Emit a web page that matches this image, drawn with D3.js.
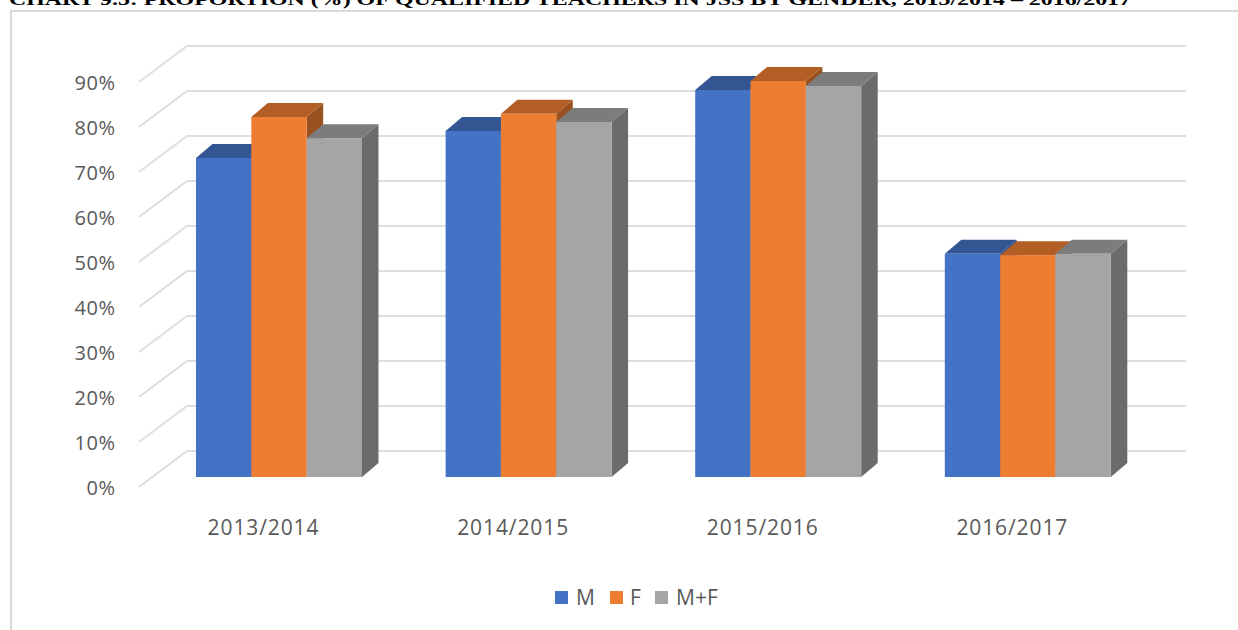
<!DOCTYPE html>
<html><head><meta charset="utf-8">
<script src="https://cdn.jsdelivr.net/npm/d3@7"></script>
<style>
html,body{margin:0;padding:0;background:#fff;overflow:hidden}
svg{display:block}
.tk text{font-family:"Open Sans",sans-serif;fill:#595959}
.ty text{font-size:20px;letter-spacing:.5px}
.tx text{font-size:21px;letter-spacing:.9px}
</style></head><body>
<svg id="c" width="1238" height="630"></svg>
<script>
const titleText = "CHART 9.3: PROPORTION (%) OF QUALIFIED TEACHERS IN JSS BY GENDER, 2013/2014 – 2016/2017";
const categories = ["2013/2014","2014/2015","2015/2016","2016/2017"];
const seriesNames = ["M","F","M+F"];
const valuesM  = [70.9,76.9,86.0,49.6];
const valuesF  = [80.0,80.7,88.0,49.3];
const valuesMF = [75.3,78.9,86.9,49.6];
const yTicks = [0,10,20,30,40,50,60,70,80,90];
const colors = ["#4472C4","#ED7D31","#A5A5A5"];

const svg = d3.select("#c");
const W = 1238;

// frame
svg.append("path").attr("d",`M11,630V11H${W}`).attr("fill","none").attr("stroke","#d9d9d9").attr("stroke-width",2.2);

// title (clipped by the top of the page, as in the source)
svg.append("text").attr("x",9).attr("y",5).text(titleText)
  .attr("font-family","'Liberation Serif',serif").attr("font-weight","bold").attr("font-size",16)
  .attr("textLength",1122).attr("lengthAdjust","spacingAndGlyphs").attr("fill","#000");

const y = d3.scaleLinear().domain([0,90]).range([477,72]);
const x0 = d3.scaleBand().domain(categories).range([196,1110.8]).paddingInner(.335).paddingOuter(0);
const x1 = d3.scaleBand().domain(seriesNames).range([0,x0.bandwidth()]);

// 3D projection offsets
const wall = {dx:48,dy:-36,frontY:10,frontX:139,right:1186};
const barD = {dx:16.5,dy:-14};

// gridlines on the floor + back wall
const grid = svg.append("g").attr("fill","none").attr("stroke","#dedede").attr("stroke-width",2);
grid.selectAll("path").data(yTicks).join("path").attr("d",v=>{
  const yf=y(v)+wall.frontY;
  return `M${wall.frontX},${yf}L${wall.frontX+wall.dx},${yf+wall.dy}H${wall.right}`;
});

// y labels
const yAxis = d3.axisLeft(y).tickValues(yTicks).tickSize(0).tickPadding(0).tickFormat(d=>d+"%");
svg.append("g").attr("class","tk ty").attr("transform",`translate(115.5,${wall.frontY+1.5})`).call(yAxis)
  .call(g=>g.select(".domain").remove());

// x labels
const xAxis = d3.axisBottom(x0).tickSize(0).tickPadding(0);
const xg = svg.append("g").attr("class","tk tx").attr("transform","translate(-15.5,516)").call(xAxis)
  .call(g=>g.select(".domain").remove());
xg.selectAll("text").attr("dy","0.9em");

// bars
const shade=(c,k)=>{const r=d3.rgb(c);return d3.rgb(r.r*k,r.g*k,r.b*k).formatHex();};
const allSeries=[valuesM,valuesF,valuesMF];
categories.forEach((cat,ci)=>{
  const g=svg.append("g");
  seriesNames.forEach((s,si)=>{
    const v=allSeries[si][ci], x=x0(cat)+x1(s), w=x1.bandwidth(), t=y(v), b=y(0), d=barD;
    g.append("path").attr("fill",shade(colors[si],.65))
      .attr("d",`M${x+w},${t}l${d.dx},${d.dy}V${b+d.dy}L${x+w},${b}Z`);
    g.append("path").attr("fill",shade(colors[si],.75))
      .attr("d",`M${x},${t}l${d.dx},${d.dy}h${w}l${-d.dx},${-d.dy}Z`);
    g.append("rect").attr("x",x).attr("y",t).attr("width",w).attr("height",b-t).attr("fill",colors[si]);
  });
});

// legend
const legX=[555,610,655], legTX=[576,630,676];
const lg=svg.append("g");
seriesNames.forEach((s,i)=>{
  lg.append("rect").attr("x",legX[i]).attr("y",591).attr("width",13).attr("height",13).attr("fill",colors[i]);
  lg.append("text").attr("x",legTX[i]).attr("y",605).text(s)
    .attr("font-family","'Open Sans',sans-serif").attr("font-size",21).attr("fill","#595959");
});
</script>
</body></html>
